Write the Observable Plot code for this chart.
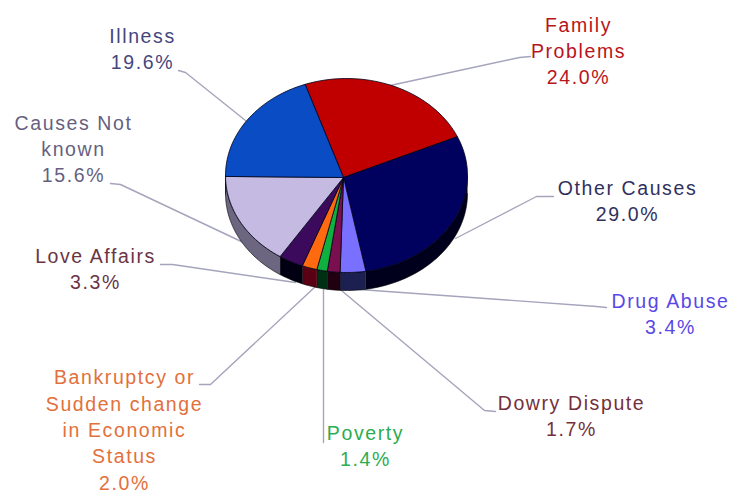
<!DOCTYPE html>
<html>
<head>
<meta charset="utf-8">
<script src="https://cdn.jsdelivr.net/npm/d3@7"></script>
<script src="https://cdn.jsdelivr.net/npm/@observablehq/plot@0.6"></script>
<style>
  html, body { margin: 0; padding: 0; background: #fff; }
  svg { display: block; }
</style>
</head>
<body>
<div id="chart"></div>
<script>
// Shares of reported causes, clockwise from the first slice
const causes = ["Family\nProblems", "Other Causes", "Drug Abuse", "Dowry Dispute", "Poverty",
  "Bankruptcy or\nSudden change\nin Economic\nStatus", "Love Affairs", "Causes Not\nknown", "Illness"];
const shares = [24.0, 29.0, 3.4, 1.7, 1.4, 2.0, 3.3, 15.6, 19.6];

// Styling per slice
const topColors = ["#c00000", "#00005f", "#7a70ff", "#7a0f50", "#10b040", "#ff6a10", "#3c0a5c", "#c4bae2", "#0a4cc4"];
const wallColors = ["#600000", "#00001c", "#1c2050", "#200010", "#003014", "#5a0014", "#000012", "#6c6680", "#062a66"];
const labelColors = ["#b8141c", "#30305f", "#5a48e6", "#74303c", "#2cac50", "#e2703c", "#6a3444", "#665f80", "#46467e"];

// Label anchors and leader paths (label end, elbow, end under the pie)
const labelX = [578, 627, 670, 571, 365, 124, 95, 73, 142];
const labelY = [49, 199, 312, 414, 444, 428, 267, 147, 47];
const leaders = [
  [[530, 56], [519, 57], [385, 86]],
  [[553, 196], [536, 196], [455, 238]],
  [[606, 307], [596, 306], [345, 288]],
  [[495, 411], [484, 410], [335, 285]],
  [[323, 442], [323, 285]],
  [[199, 384], [210, 384], [315, 286]],
  [[160, 264], [172, 264], [295, 282]],
  [[110, 183], [120, 184], [245, 243]],
  [[178, 70], [185, 72], [250, 124]]
];

// Tilted pie geometry: the hub sits slightly off the rim's centre
const cx = 346, cy = 175, rx = 121, ry = 97, depth = 18, startDeg = -20;
const hub = [343, 177];

const point = (deg, drop = 0) => {
  const a = deg * Math.PI / 180;
  return [cx + rx * Math.sin(a), cy - ry * Math.cos(a) + drop];
};
const arc = (from, to, drop = 0) => {
  const n = Math.max(2, Math.ceil(Math.abs(to - from) / 2));
  return d3.range(n + 1).map(i => point(from + (to - from) * i / n, drop));
};

const angles = [];
shares.reduce((acc, s) => {
  angles.push([acc, acc + s * 3.6]);
  return acc + s * 3.6;
}, startDeg);

const toRows = (pts, slice, color) => pts.map(([x, y]) => ({x, y, slice, color}));

// Top face of each slice
const faces = shares.flatMap((s, i) => {
  const [a, b] = angles[i];
  return toRows([hub, ...arc(a, b), hub], i, topColors[i]);
});

// Outer wall, only where the rim faces the viewer
const walls = shares.flatMap((s, i) => {
  const a = Math.max(angles[i][0], 90), b = Math.min(angles[i][1], 270);
  if (b <= a) return [];
  return toRows([...arc(a, b), ...arc(b, a, depth)], i, wallColors[i]);
});

const leaderRows = leaders.flatMap((path, i) => path.map(([x, y]) => ({x, y, i})));

const labels = causes.map((c, i) => ({
  text: `${c}\n${shares[i].toFixed(1)}%`, x: labelX[i], y: labelY[i], color: labelColors[i]
}));

const chart = Plot.plot({
  width: 734,
  height: 490,
  margin: 0,
  x: {domain: [0, 734], range: [0, 734], axis: null},
  y: {domain: [0, 490], range: [0, 490], axis: null},
  color: {type: "identity"},
  marks: [
    Plot.line(leaderRows, {x: "x", y: "y", z: "i", stroke: "#a4a4bc", strokeWidth: 1.4, curve: "linear"}),
    Plot.line(walls, {x: "x", y: "y", z: "slice", fill: "color", stroke: "#000", strokeWidth: 0.6, curve: "linear"}),
    Plot.line(faces, {x: "x", y: "y", z: "slice", fill: "color", stroke: "#000018", strokeWidth: 0.8, curve: "linear"}),
    Plot.text(labels, {
      x: "x", y: "y", text: "text", fill: "color",
      fontFamily: "Liberation Sans, Arial, sans-serif",
      fontSize: 19.5, lineHeight: 1.35, textAnchor: "middle"
    })
  ],
  style: {letterSpacing: "1.6px"}
});
document.getElementById("chart").append(chart);
</script>
</body>
</html>
